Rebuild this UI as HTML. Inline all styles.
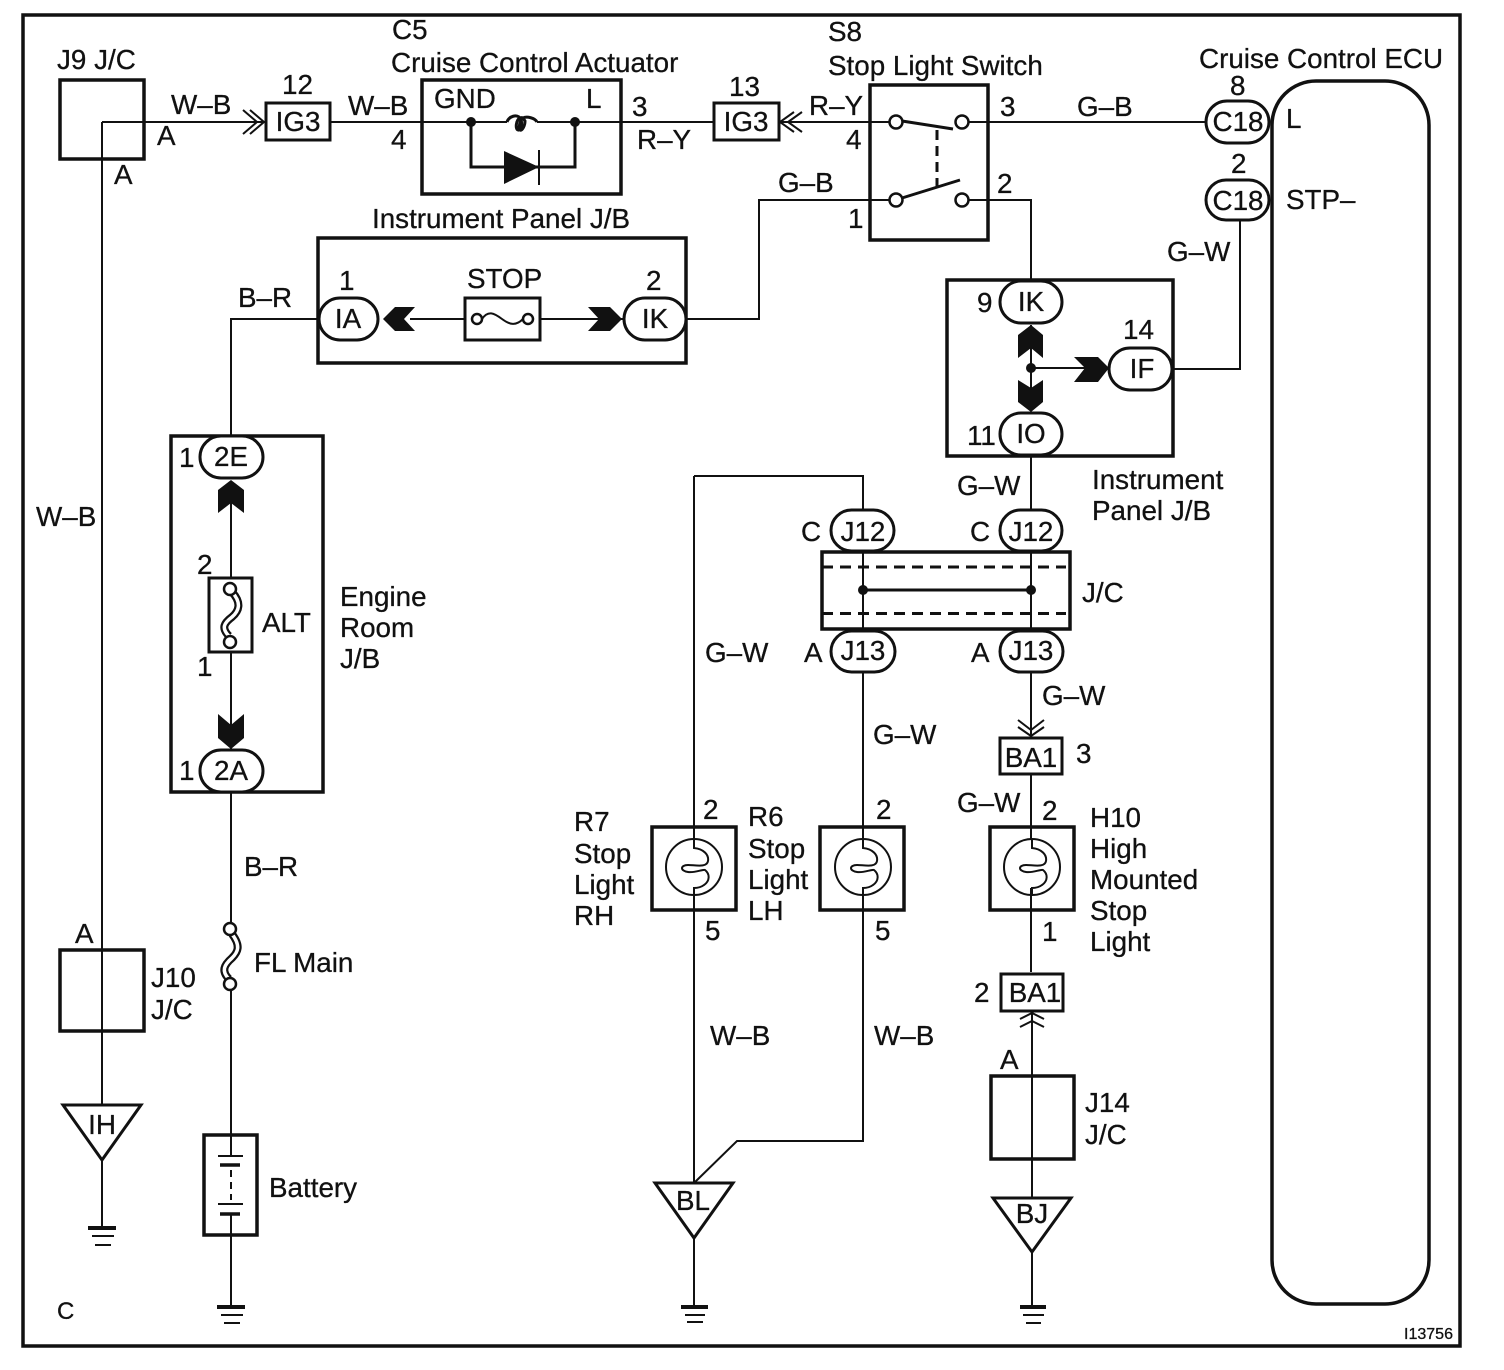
<!DOCTYPE html>
<html><head><meta charset="utf-8"><style>
html,body{margin:0;padding:0;background:#fff}
svg{display:block}
text{font-family:"Liberation Sans",sans-serif;font-size:27.8px;fill:#111;stroke:#111;stroke-width:.3}
.l{fill:none;stroke:#111;stroke-width:2}
.t{fill:none;stroke:#111;stroke-width:3}
.b{fill:none;stroke:#111;stroke-width:3.5}
.p{fill:#fff;stroke:#111;stroke-width:3}
.c{fill:#fff;stroke:#111;stroke-width:2.5}
.k{fill:#111;stroke:none}
.m{text-anchor:middle}
</style></head><body>
<svg width="1504" height="1370" viewBox="0 0 1504 1370" xmlns="http://www.w3.org/2000/svg">
<rect x="23" y="15" width="1437" height="1331" class="b"/>
<!-- wires -->
<path class="l" d="M102 122H266M330 122H422M622 122H714M780 122H870M988 122H1206M102 122V1105M102 1160V1228M988 200H1031V280M686 319H759V200H870M318 319H231V436M231 482V750M231 792V925M231 985V1135M231 1235V1306"/>
<path class="l" d="M410 319H465M540 319H625M1031 325V410M1031 368H1108M1174 369H1240V218M1031 456V512M1031 550V632M1031 670V737M1031 775V840M1031 888V972M1032 1012V1198M1032 1252V1306M694 476H863V512M863 550V632M694 476V840M694 888V1183M694 1238V1306M863 670V840M863 888V1141H737L694 1183"/>
<!-- J9 -->
<rect x="60" y="80" width="84" height="79" class="b"/>
<!-- boxes -->
<rect x="266" y="103" width="64" height="37" class="p"/>
<rect x="714" y="103" width="65" height="37" class="p"/>
<rect x="422" y="80" width="199" height="114" class="b" fill="none"/>
<path class="l" d="M422 122H507M537 122H622"/>
<path class="t" d="M471 122V167H575V122"/>
<path class="t" d="M507 122c2-6 10-8 13-4c3 4 1 13-2 12c-3-1-2-10 2-12c3-1 3 0 5 3c0 5-3 10-5 9c-2-1 0-10 3-12c4-2 12 0 14 4"/>
<path class="k" d="M504 151L539 167L504 184Z"/><path class="l" d="M539 150V185"/>
<circle cx="471" cy="122" r="5" class="k"/><circle cx="575" cy="122" r="5" class="k"/>
<path class="l" d="M794 112L780 122L794 132M802 112L788 122L802 132"/>
<path class="l" d="M250 110L264 122L250 134M243 110L257 122L243 134"/>
<!-- S8 -->
<rect x="870" y="85" width="118" height="155" fill="#fff" class="b"/>
<path class="l" d="M870 122H890M968 122H988M870 200H890M968 200H988"/>
<path class="t" d="M902 121L953 129M902 198L960 180"/>
<path d="M937 130V188" class="t" stroke-dasharray="10 6"/>
<circle cx="896" cy="122" r="6.5" class="c"/><circle cx="962" cy="122" r="6.5" class="c"/><circle cx="896" cy="200" r="6.5" class="c"/><circle cx="962" cy="200" r="6.5" class="c"/>
<!-- J/B panel -->
<rect x="318" y="238" width="368" height="125" class="b"/>
<rect x="319" y="298" width="59" height="42" rx="21" class="p"/>
<rect x="624" y="298" width="62" height="42" rx="21" class="p"/>
<rect x="465" y="298" width="75" height="42" class="p"/>
<path class="k" d="M383 319L395 307H415L404 319L415 331H395Z"/>
<path class="k" d="M588 307H610L622 319L610 331H588L599 319Z"/>
<circle cx="477" cy="319" r="5" class="c"/><circle cx="528" cy="319" r="5" class="c"/>
<path class="l" d="M482 319c6-9 12-6 20 0s14 7 21 0"/>
<!-- right JB -->
<rect x="947" y="280" width="226" height="176" class="b"/>
<rect x="1000" y="281" width="62" height="42" rx="21" class="p"/>
<rect x="1000" y="413" width="62" height="42" rx="21" class="p"/>
<rect x="1109" y="348" width="63" height="42" rx="21" class="p"/>
<path class="k" d="M1031 325L1043 335V358L1031 348L1018 358V335Z"/>
<path class="k" d="M1018 380L1031 388L1043 380V402L1031 412L1018 402Z"/>
<path class="k" d="M1074 357H1098L1109 368L1098 382H1074L1085 368Z"/>
<circle cx="1031" cy="368" r="5" class="k"/>
<!-- C18 -->
<rect x="1206" y="101" width="63" height="42" rx="21" class="p"/>
<rect x="1206" y="180" width="63" height="40" rx="20" class="p"/>
<rect x="1272" y="81" width="157" height="1223" rx="44" class="b"/>
<!-- engine JB -->
<rect x="171" y="436" width="152" height="356" class="b"/>
<rect x="200" y="436" width="63" height="42" rx="21" class="p"/>
<rect x="200" y="750" width="63" height="42" rx="21" class="p"/>
<path class="k" d="M231 480L244 490V513L231 503L218 513V490Z"/>
<path class="k" d="M218 714L231 725L244 714V738L231 749L218 738Z"/>
<rect x="209" y="578" width="43" height="74" class="p"/>
<path d="M232 592C242 603 239 611 232 617C224 623 221 628 229 636" style="fill:none;stroke:#111;stroke-width:8"/>
<path d="M232 592C242 603 239 611 232 617C224 623 221 628 229 636" style="fill:none;stroke:#fff;stroke-width:3.5"/>
<circle cx="230" cy="589" r="6" class="c"/><circle cx="230" cy="642" r="6" class="c"/>
<!-- FL main -->
<path d="M232 934C241 946 238 952 232 958C224 965 221 971 229 979" style="fill:none;stroke:#111;stroke-width:8"/>
<path d="M232 934C241 946 238 952 232 958C224 965 221 971 229 979" style="fill:none;stroke:#fff;stroke-width:3.5"/>
<circle cx="230" cy="929" r="6" class="c"/><circle cx="230" cy="984" r="6" class="c"/>
<!-- battery -->
<rect x="204" y="1135" width="53" height="100" fill="#fff" class="b"/>
<path class="l" d="M231 1135V1156M231 1214V1235"/>
<path d="M231 1170V1200" class="l" stroke-dasharray="7 5"/>
<path class="l" d="M218 1156H243M218 1204H243"/><path style="fill:none;stroke:#111;stroke-width:3.5" d="M220 1165H240M220 1214H240"/>
<path class="l" d="M231 1235V1306"/>
<!-- J10 J14 -->
<rect x="60" y="950" width="84" height="81" class="b"/>
<rect x="991" y="1076" width="83" height="83" class="b"/>
<!-- J/C centre -->
<rect x="822" y="552" width="248" height="77" class="b"/>
<path d="M822 567H1066M822 613.5H1066" class="t" stroke-dasharray="11 7"/>
<path class="t" d="M863 590H1031"/><circle cx="863" cy="590" r="5" class="k"/><circle cx="1031" cy="590" r="5" class="k"/>
<rect x="831" y="510" width="63" height="41" rx="20.5" class="p"/>
<rect x="1000" y="510" width="62" height="41" rx="20.5" class="p"/>
<rect x="831" y="631" width="64" height="41" rx="20.5" class="p"/>
<rect x="1000" y="631" width="63" height="41" rx="20.5" class="p"/>
<!-- BA1 -->
<path class="l" d="M1018 720L1031 730L1044 720M1018 727L1031 736L1044 727"/>
<path class="l" d="M1020 1019L1032 1013L1044 1019M1020 1027L1032 1021L1044 1027"/>
<rect x="1000" y="738" width="62" height="36" class="p"/>
<rect x="1001" y="974" width="62" height="37" class="p"/>
<!-- lamps -->
<rect x="652" y="827" width="84" height="83" class="b"/>
<rect x="820" y="827" width="84" height="83" class="b"/>
<rect x="990" y="827" width="84" height="83" class="b"/>
<circle cx="694" cy="867" r="28" class="l"/><circle cx="863" cy="867" r="28" class="l"/><circle cx="1032" cy="867" r="28" class="l"/>
<path id="fil" class="l" d="M694 840V848C704 849 709 855 708 861C707 868 695 865 688 865C680 865 680 871 688 872C695 873 703 869 705 870C710 874 710 881 704 885C700 888 696 888 694 888V895"/>
<path class="l" d="M863 840V848C873 849 878 855 877 861C876 868 864 865 857 865C849 865 849 871 857 872C864 873 872 869 874 870C879 874 879 881 873 885C869 888 865 888 863 888V895"/>
<path class="l" d="M1032 840V848C1042 849 1047 855 1046 861C1045 868 1033 865 1026 865C1018 865 1018 871 1026 872C1033 873 1041 869 1043 870C1048 874 1048 881 1042 885C1038 888 1034 888 1032 888V895"/>
<!-- grounds -->
<path class="p" d="M63 1105H141L102 1160Z"/>
<path class="p" d="M655 1183H733L694 1238Z"/>
<path class="p" d="M993 1198H1071L1032 1252Z"/>
<g style="fill:none;stroke:#111;stroke-width:4">
<path d="M88 1228H116M217 1307H245M681 1307H708M1020 1307H1046"/></g>
<path class="l" d="M92 1236H114M95 1245H111M221 1315H243M224 1323H240M685 1315H705M687 1322H703M1023 1315H1044M1026 1323H1041"/>
<!-- text -->
<text x="57" y="69">J9 J/C</text>
<text x="171" y="114">W–B</text><text x="157" y="145">A</text><text x="114" y="184">A</text>
<text x="282" y="94">12</text><text class="m" x="298" y="131">IG3</text>
<text x="348" y="115">W–B</text><text x="391" y="149">4</text>
<text x="392" y="39">C5</text><text x="391" y="72">Cruise Control Actuator</text>
<text x="434" y="108">GND</text><text x="586" y="108">L</text>
<text x="632" y="116">3</text><text x="637" y="149">R–Y</text>
<text x="729" y="96">13</text><text class="m" x="746" y="131">IG3</text>
<text x="809" y="115">R–Y</text><text x="846" y="149">4</text>
<text x="828" y="41">S8</text><text x="828" y="75">Stop Light Switch</text>
<text x="1000" y="116">3</text><text x="1077" y="116">G–B</text>
<text x="1199" y="68">Cruise Control ECU</text>
<text x="1230" y="95">8</text><text class="m" x="1238" y="131">C18</text><text x="1286" y="128">L</text>
<text x="1231" y="173">2</text><text class="m" x="1238" y="210">C18</text><text x="1286" y="209">STP–</text>
<text x="778" y="192">G–B</text><text x="997" y="193">2</text><text x="848" y="228">1</text>
<text x="372" y="228">Instrument Panel J/B</text>
<text x="238" y="307">B–R</text><text x="339" y="290">1</text><text class="m" x="348" y="328">IA</text>
<text x="467" y="288">STOP</text><text x="646" y="290">2</text><text class="m" x="655" y="328">IK</text>
<text x="1167" y="261">G–W</text><text x="1123" y="339">14</text>
<text x="977" y="312">9</text><text class="m" x="1031" y="311">IK</text><text class="m" x="1142" y="378">IF</text>
<text x="967" y="445">11</text><text class="m" x="1031" y="443">IO</text>
<text x="957" y="495">G–W</text><text x="1092" y="489">Instrument</text><text x="1092" y="520">Panel J/B</text>
<text x="801" y="541">C</text><text class="m" x="863" y="541">J12</text>
<text x="970" y="541">C</text><text class="m" x="1031" y="541">J12</text>
<text x="1082" y="602">J/C</text>
<text x="804" y="662">A</text><text class="m" x="863" y="660">J13</text>
<text x="971" y="662">A</text><text class="m" x="1031" y="660">J13</text>
<text x="705" y="662">G–W</text><text x="1042" y="705">G–W</text><text x="873" y="744">G–W</text>
<text class="m" x="1031" y="767">BA1</text><text x="1076" y="763">3</text>
<text x="957" y="812">G–W</text>
<text x="703" y="819">2</text><text x="876" y="819">2</text><text x="1042" y="820">2</text>
<text x="574" y="831">R7</text><text x="574" y="863">Stop</text><text x="574" y="894">Light</text><text x="574" y="925">RH</text>
<text x="748" y="826">R6</text><text x="748" y="858">Stop</text><text x="748" y="889">Light</text><text x="748" y="920">LH</text>
<text x="1090" y="827">H10</text><text x="1090" y="858">High</text><text x="1090" y="889">Mounted</text><text x="1090" y="920">Stop</text><text x="1090" y="951">Light</text>
<text x="705" y="940">5</text><text x="875" y="940">5</text><text x="1042" y="941">1</text>
<text x="710" y="1045">W–B</text><text x="874" y="1045">W–B</text>
<text x="974" y="1002">2</text><text class="m" x="1035" y="1002">BA1</text>
<text x="1000" y="1069">A</text><text x="1085" y="1112">J14</text><text x="1085" y="1144">J/C</text>
<text class="m" x="693" y="1210">BL</text><text class="m" x="1032" y="1223">BJ</text>
<text x="179" y="467">1</text><text class="m" x="231" y="466">2E</text>
<text x="197" y="574">2</text><text x="262" y="632">ALT</text><text x="197" y="676">1</text>
<text x="340" y="606">Engine</text><text x="340" y="637">Room</text><text x="340" y="668">J/B</text>
<text x="179" y="780">1</text><text class="m" x="231" y="780">2A</text>
<text x="244" y="876">B–R</text><text x="254" y="972">FL Main</text><text x="269" y="1197">Battery</text>
<text x="36" y="526">W–B</text><text x="75" y="943">A</text>
<text x="151" y="987">J10</text><text x="151" y="1019">J/C</text>
<text class="m" x="102" y="1134">IH</text>
<text x="57" y="1319" style="font-size:24px">C</text>
<text x="1404" y="1339" textLength="49" style="font-size:16px">I13756</text>
</svg>
</body></html>
